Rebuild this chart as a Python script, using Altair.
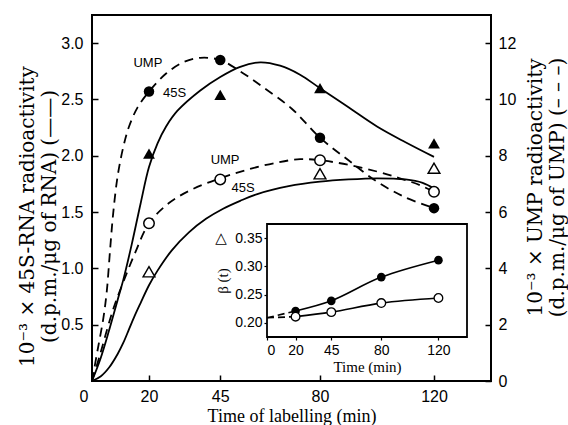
import altair as alt
import pandas as pd

# ---------------- axis values ----------------
x_ticks = [0, 20, 45, 80, 120]
x_tick_marks = [20, 45, 80, 120]
y_left_ticks = [0.5, 1.0, 1.5, 2.0, 2.5, 3.0]
y_right_ticks = [0, 2, 4, 6, 8, 10, 12]
inset_x_ticks = [0, 20, 45, 80, 120]
inset_y_ticks = [0.20, 0.25, 0.30, 0.35]

# ---------------- measured points ----------------
times = [20, 45, 80, 120]
rna_filled = [2.02, 2.54, 2.60, 2.11]          # 45S-RNA, filled triangles (left axis)
rna_open_t = [20, 80, 120]
rna_open = [0.97, 1.84, 1.89]                  # 45S-RNA, open triangles (left axis)
ump_filled = [10.28, 11.40, 8.64, 6.14]        # UMP, filled circles (right axis)
ump_open = [5.60, 7.16, 7.84, 6.72]            # UMP, open circles (right axis)

# ---------------- fitted curves ----------------
rna_a_t = [0, 3, 6, 9, 11, 14, 17, 20, 23, 26, 30, 38, 45, 52, 59, 66, 73, 80, 90, 100, 110, 120]
rna_a_v = [0, 0.20, 0.45, 0.72, 0.90, 1.22, 1.57, 1.90, 2.11, 2.26, 2.40, 2.58, 2.70, 2.79, 2.83,
           2.80, 2.72, 2.60, 2.43, 2.26, 2.12, 1.99]
rna_b_t = [0, 3, 6, 9, 11, 13, 15, 17, 20, 23, 28, 34, 40, 46, 52, 58, 69, 80, 90, 100, 110, 116, 120]
rna_b_v = [0, 0.04, 0.12, 0.24, 0.34, 0.46, 0.58, 0.69, 0.85, 0.98, 1.16, 1.32, 1.44, 1.53, 1.60,
           1.66, 1.73, 1.77, 1.79, 1.80, 1.79, 1.76, 1.71]
ump_a_t = [0, 2, 4, 5.2, 6.3, 7.4, 9, 11, 13, 16, 20, 26, 32, 38, 45, 52, 60, 70, 80, 90, 100, 110, 120]
ump_a_v = [0, 1.12, 2.24, 3.2, 4.6, 5.92, 7.28, 8.32, 9.04, 9.72, 10.28, 10.92, 11.32, 11.48, 11.4,
           11.0, 10.44, 9.68, 8.64, 7.84, 7.08, 6.52, 6.14]
ump_b_t = [0, 3, 6, 8, 11, 15, 20, 27, 35, 45, 55, 65, 73, 80, 90, 100, 108, 115, 120]
ump_b_v = [0, 1.0, 2.08, 2.72, 3.52, 4.52, 5.6, 6.32, 6.8, 7.2, 7.52, 7.76, 7.88, 7.84, 7.68, 7.44,
           7.2, 6.96, 6.72]

# curve labels (left-axis units)
lab_text = ["UMP", "45S", "UMP", "45S"]
lab_t = [19.6, 29, 46.7, 53]
lab_v = [2.82, 2.56, 1.96, 1.71]

# ---------------- inset: beta(t) ----------------
inset_t0 = [0, 20]
beta_filled_0 = [0.209, 0.221]
beta_open_0 = [0.209, 0.211]
beta_t = [20, 45, 80, 120]
beta_filled = [0.221, 0.239, 0.281, 0.311]
beta_open = [0.211, 0.219, 0.235, 0.244]
inset_x_dom = [0, 140]
inset_y_dom = [0.175, 0.375]

W, H = 399, 366

X_MAIN = alt.Scale(domain=[0, 140], nice=False, zero=False)
Y_LEFT = alt.Scale(domain=[0, 3.25], nice=False)
Y_RIGHT = alt.Scale(domain=[0, 13], nice=False)
X_IN = alt.Scale(domain=inset_x_dom, range=[175, 375], nice=False, zero=False)
Y_IN = alt.Scale(domain=inset_y_dom, range=[322, 209], nice=False, zero=False)

SANS = "Liberation Sans"
SERIF = "Liberation Serif"
YSERIF = "DejaVu Serif"
CURVE = "catmull-rom"


def tick_axis(orient, offset, values, size=6):
    return alt.Axis(orient=orient, offset=offset, values=values, labels=False, domain=False,
                    grid=False, ticks=True, tickSize=size, tickWidth=1.5, tickColor="black",
                    title=None)


df_rna_a = pd.DataFrame({"t": rna_a_t, "v": rna_a_v})
df_rna_b = pd.DataFrame({"t": rna_b_t, "v": rna_b_v})
df_ump_a = pd.DataFrame({"t": ump_a_t, "v": ump_a_v})
df_ump_b = pd.DataFrame({"t": ump_b_t, "v": ump_b_v})

line_a = alt.Chart(df_rna_a).mark_line(color="black", strokeWidth=1.8, interpolate=CURVE).encode(
    x=alt.X("t:Q", scale=X_MAIN,
            axis=alt.Axis(orient="bottom", values=x_ticks, ticks=False, domain=False, grid=False,
                          labelFont=SANS, labelFontSize=16, labelPadding=7, labelColor="black",
                          labelOffset={"condition": {"test": "datum.value == 0", "value": -13}, "value": 0},
                          title="Time of labelling (min)", titleFont=SERIF, titleFontSize=18,
                          titleFontWeight="normal", titleColor="black", titlePadding=3)),
    y=alt.Y("v:Q", scale=Y_LEFT,
            axis=alt.Axis(orient="left", values=y_left_ticks, format=".1f", ticks=False, domain=False,
                          grid=False, labelFont=SANS, labelFontSize=16, labelPadding=9, labelColor="black",
                          title=["10⁻³ × 45S-RNA radioactivity", "(d.p.m./μg of RNA) (——)"],
                          titleFont=YSERIF, titleFontSize=20, titleFontWeight="normal",
                          titleColor="black", titlePadding=0, titleLineHeight=22, titleY=201,
                          titleX=-55)),
)

line_b = alt.Chart(df_rna_b).mark_line(color="black", strokeWidth=1.8, interpolate=CURVE).encode(
    x=alt.X("t:Q", scale=X_MAIN, axis=tick_axis("top", -H, x_tick_marks)),
    y=alt.Y("v:Q", scale=Y_LEFT, axis=tick_axis("right", -W, y_left_ticks)),
)

line_c = alt.Chart(df_ump_a).mark_line(color="black", strokeWidth=1.8, strokeDash=[9, 6],
                                        interpolate=CURVE).encode(
    x=alt.X("t:Q", scale=X_MAIN, axis=None),
    y=alt.Y("v:Q", scale=Y_RIGHT,
            axis=alt.Axis(orient="right", values=y_right_ticks, ticks=False, domain=False, grid=False,
                          labelFont=SANS, labelFontSize=16, labelPadding=7, labelColor="black",
                          title=["10⁻³ × UMP radioactivity", "(d.p.m./μg of UMP) (– – –)"],
                          titleAngle=270, titleFont=YSERIF, titleFontSize=20, titleFontWeight="normal",
                          titleColor="black", titlePadding=8, titleLineHeight=22, titleY=172)),
)

line_d = alt.Chart(df_ump_b).mark_line(color="black", strokeWidth=1.8, strokeDash=[9, 6],
                                        interpolate=CURVE).encode(
    x=alt.X("t:Q", scale=X_MAIN, axis=None),
    y=alt.Y("v:Q", scale=Y_RIGHT, axis=tick_axis("left", -W, y_right_ticks)),
)

pts_rna_f = alt.Chart(pd.DataFrame({"t": times, "v": rna_filled})).mark_point(
    shape="triangle-up", filled=True, color="black", size=140, opacity=1).encode(
    x=alt.X("t:Q", scale=X_MAIN, axis=None), y=alt.Y("v:Q", scale=Y_LEFT, axis=None))

pts_rna_o = alt.Chart(pd.DataFrame({"t": rna_open_t, "v": rna_open})).mark_point(
    shape="triangle-up", filled=True, fill="white", stroke="black", strokeWidth=1.4, size=140,
    opacity=1).encode(
    x=alt.X("t:Q", scale=X_MAIN, axis=None), y=alt.Y("v:Q", scale=Y_LEFT, axis=None))

pts_ump_f = alt.Chart(pd.DataFrame({"t": times, "v": ump_filled})).mark_point(
    shape="circle", filled=True, color="black", size=110, opacity=1).encode(
    x=alt.X("t:Q", scale=X_MAIN, axis=None), y=alt.Y("v:Q", scale=Y_RIGHT, axis=None))

pts_ump_o = alt.Chart(pd.DataFrame({"t": times, "v": ump_open})).mark_point(
    shape="circle", filled=True, fill="white", stroke="black", strokeWidth=1.5, size=110,
    opacity=1).encode(
    x=alt.X("t:Q", scale=X_MAIN, axis=None), y=alt.Y("v:Q", scale=Y_RIGHT, axis=None))

labels = alt.Chart(pd.DataFrame({"t": lab_t, "v": lab_v, "s": lab_text})).mark_text(
    font=SANS, fontSize=13, color="black", align="center", baseline="middle").encode(
    x=alt.X("t:Q", scale=X_MAIN, axis=None), y=alt.Y("v:Q", scale=Y_LEFT, axis=None), text="s:N")

# ---------------- inset ----------------
frame = alt.Chart(pd.DataFrame({"x0": [inset_x_dom[0]], "x1": [inset_x_dom[1]],
                                "y0": [inset_y_dom[0]], "y1": [inset_y_dom[1]]})).mark_rect(
    fill="white", stroke="black", strokeWidth=1.8).encode(
    x=alt.X("x0:Q", scale=X_IN, axis=None), x2="x1:Q",
    y=alt.Y("y0:Q", scale=Y_IN, axis=None), y2="y1:Q")

df_in0 = pd.DataFrame({"t": inset_t0 * 2, "b": beta_filled_0 + beta_open_0,
                       "s": ["f"] * 2 + ["o"] * 2})
inset_dash = alt.Chart(df_in0).mark_line(color="black", strokeWidth=1.6, strokeDash=[7, 4]).encode(
    x=alt.X("t:Q", scale=X_IN, axis=None), y=alt.Y("b:Q", scale=Y_IN, axis=None), detail="s:N")

df_in = pd.DataFrame({"t": beta_t * 2, "b": beta_filled + beta_open, "s": ["f"] * 4 + ["o"] * 4})
inset_line = alt.Chart(df_in).mark_line(color="black", strokeWidth=1.6, interpolate=CURVE).encode(
    x=alt.X("t:Q", scale=X_IN,
            axis=alt.Axis(orient="bottom", offset=322 - H, values=inset_x_ticks, domain=False,
                          grid=False, ticks=True, tickSize=3, tickWidth=1.2, tickColor="black",
                          labelFont=SANS, labelFontSize=14, labelPadding=3, labelColor="black",
                          title="Time (min)", titleFont=SERIF, titleFontSize=15,
                          titleFontWeight="normal", titleColor="black", titlePadding=2)),
    y=alt.Y("b:Q", scale=Y_IN,
            axis=alt.Axis(orient="left", offset=-175, values=inset_y_ticks, format=".2f",
                          domain=False, grid=False, ticks=True, tickSize=3, tickWidth=1.2,
                          tickColor="black", labelFont=SANS, labelFontSize=14, labelPadding=2,
                          labelColor="black", title="β (t)", titleFont=SERIF, titleFontSize=15,
                          titleFontWeight="normal", titleColor="black", titlePadding=4)),
    detail="s:N")

inset_pf = alt.Chart(pd.DataFrame({"t": beta_t, "b": beta_filled})).mark_point(
    shape="circle", filled=True, color="black", size=75, opacity=1).encode(
    x=alt.X("t:Q", scale=X_IN, axis=None), y=alt.Y("b:Q", scale=Y_IN, axis=None))

inset_po = alt.Chart(pd.DataFrame({"t": beta_t, "b": beta_open})).mark_point(
    shape="circle", filled=True, fill="white", stroke="black", strokeWidth=1.3, size=75,
    opacity=1).encode(
    x=alt.X("t:Q", scale=X_IN, axis=None), y=alt.Y("b:Q", scale=Y_IN, axis=None))

tri_key = alt.Chart(pd.DataFrame({"t": [0], "b": [0.35], "s": ["△"]})).mark_text(
    font="DejaVu Sans", fontSize=15, color="black", dx=-46, baseline="middle").encode(
    x=alt.X("t:Q", scale=X_IN, axis=None), y=alt.Y("b:Q", scale=Y_IN, axis=None), text="s:N")

chart = alt.layer(
    line_a, line_b, line_c, line_d, pts_rna_f, pts_rna_o, pts_ump_f, pts_ump_o, labels,
    frame, inset_dash, inset_line, inset_pf, inset_po, tri_key
).resolve_scale(x="independent", y="independent").properties(
    width=W, height=H,
    autosize=alt.AutoSizeParams(type="none"),
    padding={"left": 92, "top": 15, "right": 77, "bottom": 44},
    background="white",
).configure_view(stroke="black", strokeWidth=2)

chart.save("out.html", embed_options={"renderer": "svg", "actions": False})
